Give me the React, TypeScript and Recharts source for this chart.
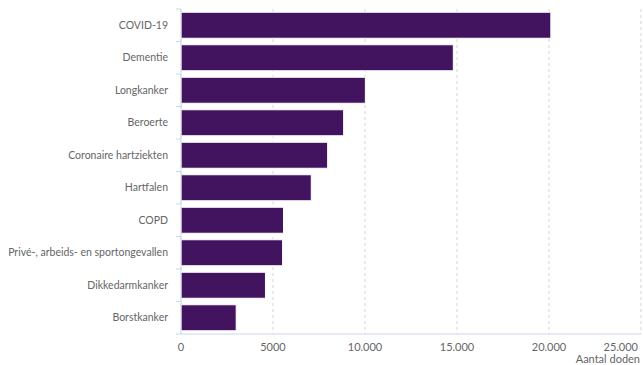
import { Bar, BarChart, CartesianGrid, Label, XAxis, YAxis } from "recharts";

const causes = [
  "COVID-19",
  "Dementie",
  "Longkanker",
  "Beroerte",
  "Coronaire hartziekten",
  "Hartfalen",
  "COPD",
  "Privé-, arbeids- en sportongevallen",
  "Dikkedarmkanker",
  "Borstkanker",
];
const deaths = [20100, 14800, 10020, 8840, 7970, 7080, 5570, 5520, 4590, 3000];
const xTicks = [0, 5000, 10000, 15000, 20000, 25000];

const data = causes.map((name, i) => ({ name, deaths: deaths[i] }));

const FONT = "Lato, 'Liberation Sans', sans-serif";
const AXIS = "#ccd6eb";
const TEXT = "#666666";

function fmt(v: number) {
  if (v < 10000) return String(v);
  return String(v).replace(/\B(?=(\d{3})+(?!\d))/g, ".");
}

function CauseTick(props: any) {
  const { x, y, payload, index } = props;
  const half = payload.offset || 0;
  const axisX = x + 13;
  return (
    <g>
      <line x1={axisX - 5} x2={axisX} y1={y - half} y2={y - half} stroke={AXIS} />
      {index === causes.length - 1 && <line x1={axisX - 5} x2={axisX} y1={y + half} y2={y + half} stroke={AXIS} />}
      <text x={x} y={y} dy="0.35em" textAnchor="end" fill={TEXT} fontSize={10.5} fontFamily={FONT}>
        {payload.value}
      </text>
    </g>
  );
}

function ValueTick(props: any) {
  const { x, y, payload } = props;
  // last label is pulled inside the plot, like the original
  const last = payload.value === xTicks[xTicks.length - 1];
  return (
    <text x={last ? x - 3 : x} y={y} dy="0.71em" textAnchor={last ? "end" : "middle"} fill={TEXT} fontSize={11} fontFamily={FONT}>
      {fmt(payload.value)}
    </text>
  );
}

export default function App() {
  return (
    <div style={{ position: "absolute", left: 0, top: 0, background: "#fff" }}>
      <BarChart
        width={643}
        height={365}
        data={data}
        layout="vertical"
        margin={{ top: 9, right: 2, bottom: 1, left: 0 }}
        barCategoryGap="10%"
      >
        <CartesianGrid horizontal={false} stroke="#d6d6d6" strokeDasharray="3 3" />
        <XAxis
          type="number"
          domain={[0, 25000]}
          ticks={xTicks}
          tick={<ValueTick />}
          tickFormatter={fmt}
          interval={0}
          tickLine={false}
          tickSize={0}
          tickMargin={9}
          stroke={AXIS}
          height={30}
        >
          <Label
            value="Aantal doden"
            position="insideBottomRight"
            offset={1}
            fill={TEXT}
            fontSize={11}
            fontFamily={FONT}
          />
        </XAxis>
        <YAxis
          type="category"
          dataKey="name"
          width={181}
          tick={<CauseTick />}
          tickLine={false}
          tickSize={0}
          tickMargin={13}
          stroke={AXIS}
          interval={0}
        />
        <Bar dataKey="deaths" fill="#42145f" stroke="#ffffff" strokeWidth={1} isAnimationActive={false} />
      </BarChart>
    </div>
  );
}
